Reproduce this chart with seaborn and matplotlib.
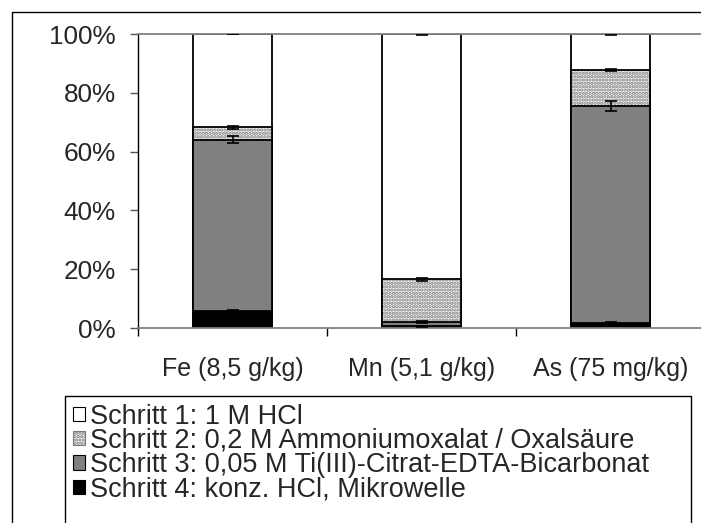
import numpy as np
import matplotlib
matplotlib.use("Agg")
import matplotlib.pyplot as plt
from matplotlib.patches import Rectangle, Patch
import seaborn as sns

# ---- data (percent of total) ----
categories = ["Fe (8,5 g/kg)", "Mn (5,1 g/kg)", "As (75 mg/kg)"]
step4 = [5.8, 0.6, 1.7]      # Schritt 4: konz. HCl, Mikrowelle
step3 = [58.2, 1.5, 73.8]    # Schritt 3: Ti(III)-Citrat-EDTA-Bicarbonat
step2 = [4.2, 14.5, 12.3]    # Schritt 2: Ammoniumoxalat / Oxalsäure
step1 = [31.8, 83.4, 12.2]   # Schritt 1: 1 M HCl
err4 = [0.3, 0.2, 0.3]
err3 = [1.2, 0.4, 1.8]
err2 = [0.6, 0.5, 0.4]
err1 = [0.0, 0.5, 0.5]
legend_labels = [
    "Schritt 1: 1 M HCl",
    "Schritt 2: 0,2 M Ammoniumoxalat / Oxalsäure",
    "Schritt 3: 0,05 M Ti(III)-Citrat-EDTA-Bicarbonat",
    "Schritt 4: konz. HCl, Mikrowelle",
]
yticks = [0, 20, 40, 60, 80, 100]
ytick_labels = [f"{v}%" for v in yticks]

sns.set_theme(style="white")
plt.rcParams["font.family"] = ["Liberation Sans", "DejaVu Sans"]
plt.rcParams["hatch.linewidth"] = 1.6

cum = np.cumsum(np.array([step4, step3, step2, step1]), axis=0)
c4, c3, c2, c1 = cum

W, H = 701, 523
fig = plt.figure(figsize=(W / 100, H / 100), dpi=100)
fig.patch.set_facecolor("white")
ax = fig.add_axes([138 / W, 1 - 328 / H, (705 - 138) / W, (328 - 34) / H])

bw = 0.42
lw = 1.3
# stacked by overlaying cumulative totals
sns.barplot(x=categories, y=c1, color="white", edgecolor="black", linewidth=lw,
            width=bw, saturation=1, ax=ax)
sns.barplot(x=categories, y=c2, facecolor="#f4f4f4", edgecolor="#7a7a7a", hatch=".....",
            linewidth=0, width=bw, saturation=1, ax=ax)
sns.barplot(x=categories, y=c2, facecolor="none", edgecolor="black", linewidth=lw,
            width=bw, saturation=1, ax=ax)
sns.barplot(x=categories, y=c3, color="#808080", edgecolor="black", linewidth=lw,
            width=bw, saturation=1, ax=ax)
sns.barplot(x=categories, y=c4, color="black", edgecolor="black", linewidth=lw,
            width=bw, saturation=1, ax=ax)

xpos = np.arange(len(categories))
for tops, errs in [(c4, err4), (c3, err3), (c2, err2), (c1, err1)]:
    ax.errorbar(xpos, tops, yerr=errs, fmt="none", ecolor="black",
                elinewidth=1.2, capsize=4.3, capthick=1.2, zorder=5)

ax.set_ylim(0, 100)
ax.set_xlim(-0.5, 2.5)
ax.set_yticks(yticks)
ax.set_yticklabels(ytick_labels, fontsize=18.8)
ax.tick_params(axis="y", direction="out", length=6, width=1, color="#555555",
               pad=10, left=True)
ax.set_xticks([-0.5, 0.5, 1.5, 2.5])
ax.set_xticklabels([])
ax.set_xticks(xpos, minor=True)
ax.set_xticklabels(categories, minor=True, fontsize=18)
ax.tick_params(axis="x", which="major", direction="out", length=6, width=1,
               color="black", bottom=True)
ax.tick_params(axis="x", which="minor", length=0, pad=21)
ax.set_xlabel("")
ax.set_ylabel("")

for side in ["top", "bottom"]:
    ax.spines[side].set_color("#808080")
    ax.spines[side].set_linewidth(1.3)
ax.spines["left"].set_color("black")
ax.spines["left"].set_linewidth(1)
ax.spines["right"].set_visible(False)

# figure frame (cropped chart area border)
fig.patches.append(Rectangle((12 / W, -0.2), 1.2, (1 - 12 / H) + 0.2,
                             transform=fig.transFigure, fill=False,
                             edgecolor="black", linewidth=1.0))
# legend box
fig.patches.append(Rectangle((65 / W, -0.2), (691 - 65) / W, (1 - 396 / H) + 0.2,
                             transform=fig.transFigure, fill=False,
                             edgecolor="black", linewidth=1.0))

handles = [
    Patch(facecolor="white", edgecolor="black", linewidth=0.8),
    Patch(facecolor="#f4f4f4", edgecolor="#7a7a7a", hatch=".....", linewidth=0.8),
    Patch(facecolor="#808080", edgecolor="black", linewidth=0.8),
    Patch(facecolor="black", edgecolor="black", linewidth=0.8),
]
fig.legend(handles, legend_labels, loc="upper left",
           bbox_to_anchor=(73 / W, 1 - 403.5 / H), frameon=False, fontsize=19.5,
           borderpad=0, borderaxespad=0, handlelength=0.44, handleheight=0.44,
           handletextpad=0.2, labelspacing=-0.06)

fig.savefig("out.png", dpi=100)
